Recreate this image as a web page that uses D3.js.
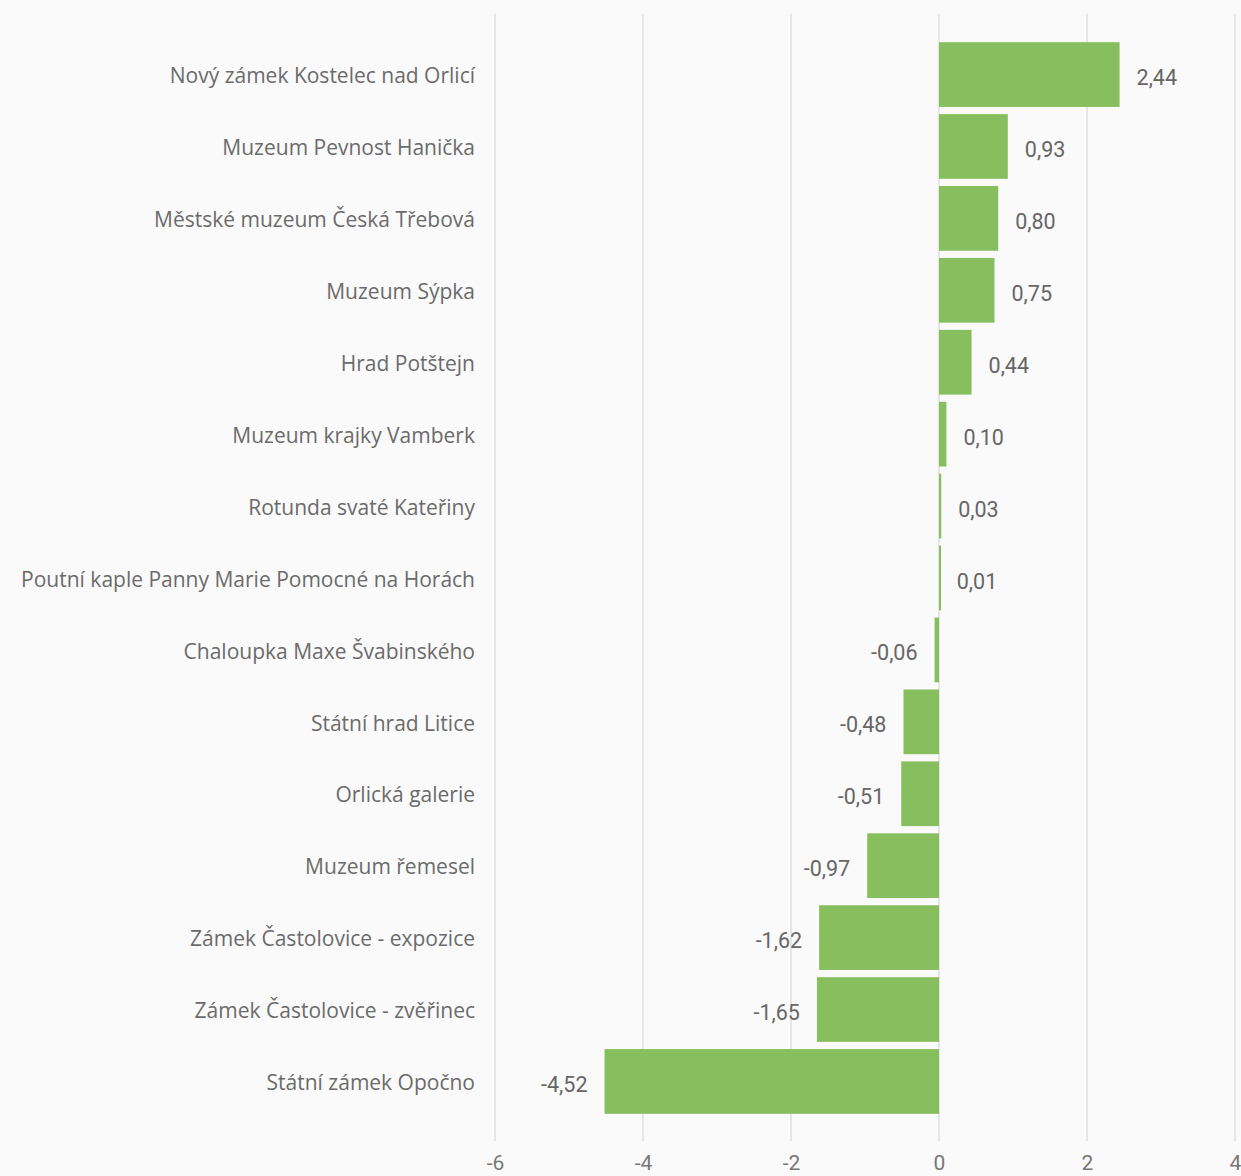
<!DOCTYPE html>
<html>
<head>
<meta charset="utf-8">
<script src="https://cdn.jsdelivr.net/npm/d3@7"></script>
<style>
  body { margin: 0; background: #fafafa; }
  svg { display: block; }
</style>
</head>
<body>
<div id="viz"></div>
<script>
const width = 1241;
const height = 1176;
const margin = {top: 35, right: 6, bottom: 55, left: 495};
const barColor = '#87bf5f';
const textColor = '#6b6b6b';

const categories = [
  'Nový zámek Kostelec nad Orlicí',
  'Muzeum Pevnost Hanička',
  'Městské muzeum Česká Třebová',
  'Muzeum Sýpka',
  'Hrad Potštejn',
  'Muzeum krajky Vamberk',
  'Rotunda svaté Kateřiny',
  'Poutní kaple Panny Marie Pomocné na Horách',
  'Chaloupka Maxe Švabinského',
  'Státní hrad Litice',
  'Orlická galerie',
  'Muzeum řemesel',
  'Zámek Častolovice - expozice',
  'Zámek Častolovice - zvěřinec',
  'Státní zámek Opočno'
];
const values = [2.44, 0.93, 0.80, 0.75, 0.44, 0.10, 0.03, 0.01, -0.06, -0.48, -0.51, -0.97, -1.62, -1.65, -4.52];
const xTicks = [-6, -4, -2, 0, 2, 4];

const data = categories.map((c, i) => ({name: c, value: values[i]}));
const fmt = v => v.toFixed(2).replace('.', ',');

const svg = d3.select('#viz')
  .append('svg')
    .attr('width', width)
    .attr('height', height);

const x = d3.scaleLinear()
  .domain([-6, 4])
  .range([margin.left, margin.left + 740]);

const y = d3.scaleBand()
  .domain(categories)
  .range([margin.top, height - margin.bottom])
  .padding(0.1);

// gridlines
svg.append('g')
  .selectAll('line')
  .data(xTicks)
  .join('line')
    .attr('x1', d => x(d))
    .attr('x2', d => x(d))
    .attr('y1', 14)
    .attr('y2', 1141)
    .attr('stroke', '#e6e6e6')
    .attr('stroke-width', 2);

// x axis tick labels
const xAxis = svg.append('g')
  .attr('transform', `translate(0, ${1141})`)
  .call(d3.axisBottom(x).tickValues(xTicks).tickFormat(d => String(d)).tickSize(0).tickPadding(14));
xAxis.select('.domain').remove();
xAxis.selectAll('text')
  .attr('font-family', 'Roboto, sans-serif')
  .attr('font-size', 21)
  .attr('fill', '#777');

// bars
svg.append('g')
  .selectAll('rect')
  .data(data)
  .join('rect')
    .attr('x', d => x(Math.min(0, d.value)))
    .attr('y', d => y(d.name))
    .attr('width', d => Math.max(2, Math.abs(x(d.value) - x(0))))
    .attr('height', y.bandwidth())
    .attr('fill', barColor);

// category labels
const yAxis = svg.append('g')
  .attr('transform', `translate(${475}, 2)`)
  .call(d3.axisLeft(y).tickSize(0).tickPadding(0));
yAxis.select('.domain').remove();
yAxis.selectAll('text')
  .attr('font-family', '"Open Sans", "Noto Sans", sans-serif')
  .attr('font-size', 21)
  .attr('fill', textColor);

// value labels
svg.append('g')
  .selectAll('text')
  .data(data)
  .join('text')
    .attr('x', d => d.value >= 0 ? x(d.value) + 17 : x(d.value) - 17)
    .attr('y', d => y(d.name) + y.bandwidth() / 2 + 3)
    .attr('dy', '0.35em')
    .attr('text-anchor', d => d.value >= 0 ? 'start' : 'end')
    .attr('font-family', 'Roboto, sans-serif')
    .attr('font-size', 21.5)
    .attr('fill', '#666')
    .text(d => fmt(d.value));
</script>
</body>
</html>
